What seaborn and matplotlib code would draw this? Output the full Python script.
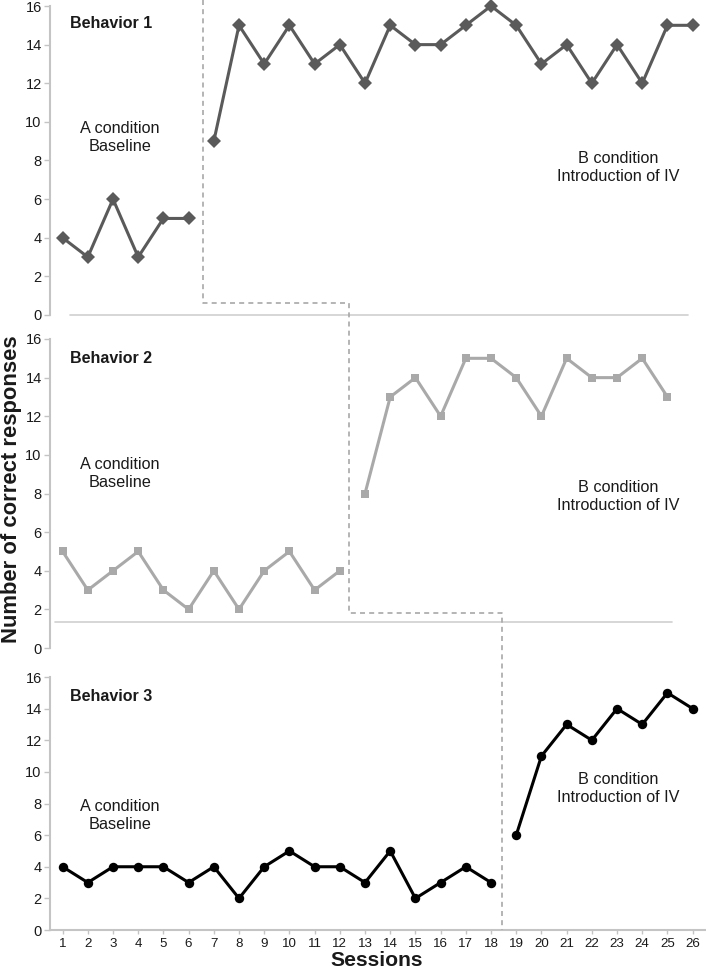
import matplotlib.pyplot as plt
import seaborn as sns
from matplotlib.lines import Line2D

# values
sessions = list(range(1, 27))
behaviors = ["Behavior 1", "Behavior 2", "Behavior 3"]
b1_baseline = [4, 3, 6, 3, 5, 5]
b1_treatment = [9, 15, 13, 15, 13, 14, 12, 15, 14, 14, 15, 16, 15, 13, 14, 12, 14, 12, 15, 15]
b2_baseline = [5, 3, 4, 5, 3, 2, 4, 2, 4, 5, 3, 4]
b2_treatment = [8, 13, 14, 12, 15, 15, 14, 12, 15, 14, 14, 15, 13]
b3_baseline = [4, 3, 4, 4, 4, 3, 4, 2, 4, 5, 4, 4, 3, 5, 2, 3, 4, 3]
b3_treatment = [6, 11, 13, 12, 14, 13, 15, 14]
y_ticks = [0, 2, 4, 6, 8, 10, 12, 14, 16]
label_a = "A condition\nBaseline"
label_b = "B condition\nIntroduction of IV"

sns.set_style("white")
plt.rcParams['font.family'] = ['Liberation Sans', 'DejaVu Sans']

W, H = 706, 971
fig = plt.figure(figsize=(W / 100, H / 100), dpi=100)

def px_axes(left, top, right, bottom):
    ax = fig.add_axes([left / W, 1 - bottom / H, (right - left) / W, (bottom - top) / H])
    ax.patch.set_visible(False)
    return ax

ax1 = px_axes(50, 6, 706, 315)
ax2 = px_axes(50, 339, 706, 648)
ax3 = px_axes(50, 677, 706, 930)
axes = [ax1, ax2, ax3]

panels = [
    (b1_baseline, b1_treatment, "#5a5a5a", "D", 7, 15.07, 9.2, 7.66),
    (b2_baseline, b2_treatment, "#a9a9a9", "s", 6.3, 14.97, 9.06, 7.82),
    (b3_baseline, b3_treatment, "#000000", "o", 6.8, 14.74, 7.21, 8.98),
]

spine_col = "#c4c4c4"
text_col = "#1a1a1a"

for ax, name, (base, treat, col, mk, ms, ty, ay, by) in zip(axes, behaviors, panels):
    xb = sessions[:len(base)]
    xt = sessions[len(base):len(base) + len(treat)]
    for xs, ys in [(xb, base), (xt, treat)]:
        sns.lineplot(x=xs, y=ys, ax=ax, color=col, marker=mk, markersize=ms,
                     markeredgecolor=col, markeredgewidth=0, linewidth=2.2, clip_on=False)
    ax.set_xlim(0.5, 26.53)
    ax.set_ylim(0, 16)
    ax.set_yticks(y_ticks)
    ax.tick_params(axis='y', left=True, length=4, width=1, color=spine_col,
                   labelsize=10.5, labelcolor=text_col, pad=2)
    for s in ['top', 'right', 'bottom']:
        ax.spines[s].set_visible(False)
    ax.spines['left'].set_color(spine_col)
    ax.spines['left'].set_linewidth(1.5)
    ax.text(1.3, ty, name, fontsize=11.5, fontweight='bold', color=text_col, va='center')
    ax.text(3.28, ay, label_a, fontsize=11.7, color=text_col, ha='center', va='center',
            linespacing=1.25)
    ax.text(23.04, by, label_b, fontsize=11.7, color=text_col, ha='center', va='center',
            linespacing=1.25)

# x axis only on the lowest panel
ax1.set_xticks([])
ax2.set_xticks([])
ax3.set_xticks(sessions)
ax3.spines['bottom'].set_visible(True)
ax3.spines['bottom'].set_color(spine_col)
ax3.spines['bottom'].set_linewidth(1.5)
ax3.tick_params(axis='x', bottom=True, length=3, width=1, color=spine_col,
                labelsize=9.6, labelcolor=text_col, pad=3)

# light baseline rules under the upper two panels
ax1.plot([1.29, 25.8], [0, 0], color="#d0d0d0", linewidth=1.2, clip_on=False)
ax2.plot([0.7, 25.2], [1.35, 1.35], color="#d0d0d0", linewidth=1.2, clip_on=False)

# phase change line drawn across the three panels
def to_fig(ax, x, y):
    return fig.transFigure.inverted().transform(ax.transData.transform((x, y)))

path = [
    (ax1, 6.57, 16.32), (ax1, 6.57, 0.62), (ax1, 12.36, 0.62),
    (ax2, 12.36, 1.81), (ax2, 18.44, 1.81), (ax3, 18.44, 0),
]
pts = [to_fig(a, x, y) for a, x, y in path]
fig.add_artist(Line2D([p[0] for p in pts], [p[1] for p in pts], transform=fig.transFigure,
                      color="#a8a8a8", linewidth=1.2, linestyle=(0, (3, 2.5))))

fig.text(12 / W, 1 - 489 / H, "Number of correct responses", rotation=90, fontsize=15.8,
         fontweight='bold', ha='center', va='center', color=text_col)
fig.text(377 / W, 1 - 965.5 / H, "Sessions", fontsize=15.2, fontweight='bold',
         ha='center', va='baseline', color=text_col)

fig.savefig("out.png", dpi=100)
plt.close(fig)
